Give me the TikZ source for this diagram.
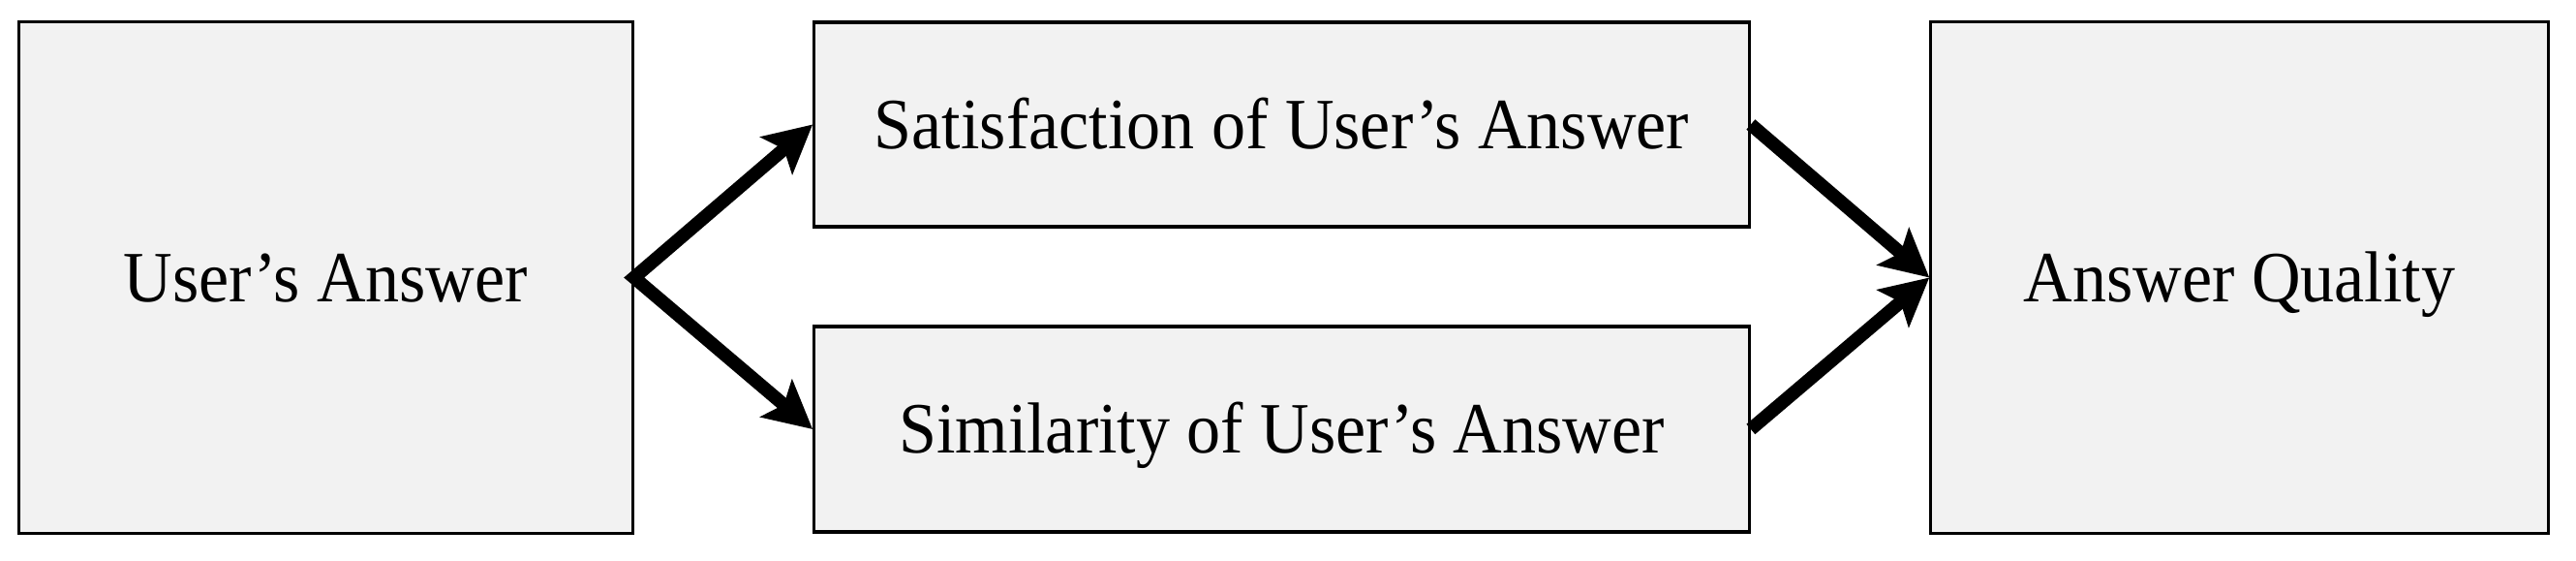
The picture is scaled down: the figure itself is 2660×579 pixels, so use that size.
\documentclass[tikz,border=0pt]{standalone}
\usepackage{fontspec}
\setmainfont{Liberation Serif}[FakeStretch=0.94]
\usetikzlibrary{arrows.meta}
\definecolor{boxfill}{HTML}{F2F2F2}
\tikzset{
  blockbox/.style={draw=black, line width=0.9pt, fill=boxfill, inner sep=0pt,
    font=\fontsize{21.2}{25}\selectfont, text height=14pt, text depth=0pt},
  thickarrow/.style={line width=3.9pt, line join=miter,
    -{Stealth[length=0.49cm,width=0.5cm,inset=0.1cm]}},
  dblarrow/.style={line width=3.9pt, line join=miter,
    {Stealth[length=0.49cm,width=0.5cm,inset=0.1cm]}-{Stealth[length=0.49cm,width=0.5cm,inset=0.1cm]}}
}
\begin{document}
\begin{tikzpicture}[x=0.01cm,y=0.01cm]
\useasboundingbox (0,0) rectangle (2660,579);
\node[blockbox, minimum width=6.33cm, minimum height=5.27cm] (L) at (336.5,292.5) {User’s Answer};
\node[blockbox, minimum width=9.65cm, minimum height=2.11cm] (T) at (1323.5,450.5) {Satisfaction of User’s Answer};
\node[blockbox, minimum width=9.65cm, minimum height=2.12cm] (B) at (1323.5,136) {Similarity of User’s Answer};
\node[blockbox, minimum width=6.37cm, minimum height=5.27cm] (R) at (2312.5,292.5) {Answer Quality};
\draw[dblarrow] (T.west) -- (L.east) -- (B.west);
\draw[thickarrow] (T.east) -- (R.west);
\draw[thickarrow] (B.east) -- (R.west);
\end{tikzpicture}
\end{document}
